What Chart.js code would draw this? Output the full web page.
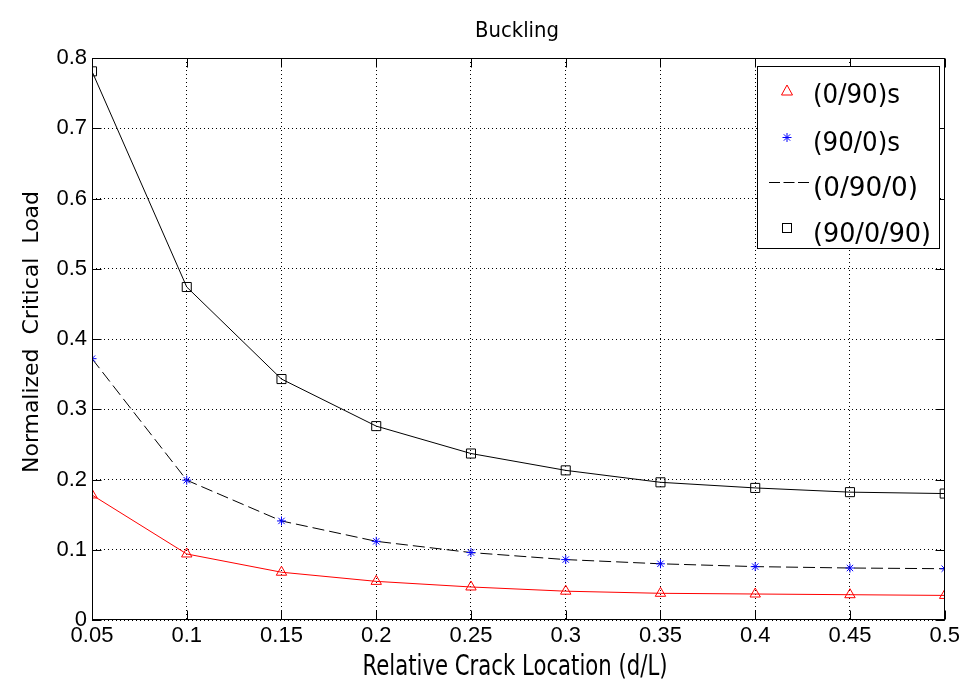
<!DOCTYPE html>
<html>
<head>
<meta charset="utf-8">
<title>Buckling</title>
<script src="https://cdn.jsdelivr.net/npm/chart.js@4/dist/chart.umd.min.js"></script>
<style>
  html, body { margin: 0; padding: 0; background: #fff; }
  #wrap { width: 963px; height: 683px; }
</style>
</head>
<body>
<div id="wrap"><canvas id="myChart" width="963" height="683"></canvas></div>
<script>
// relative crack location d/L
const crackLoc = [0.05, 0.1, 0.15, 0.2, 0.25, 0.3, 0.35, 0.4, 0.45, 0.5];

// normalized critical load
const load0_90s = [0.178, 0.094, 0.068, 0.055, 0.047, 0.041, 0.038, 0.037, 0.036, 0.035];
const load90_0s = [0.372, 0.199, 0.141, 0.112, 0.096, 0.086, 0.080, 0.076, 0.074, 0.073];
const load0_90_0 = [0.372, 0.199, 0.141, 0.112, 0.096, 0.086, 0.080, 0.076, 0.074, 0.073];
const load90_0_90 = [0.781, 0.474, 0.343, 0.276, 0.237, 0.213, 0.196, 0.188, 0.182, 0.180];

const legendNames = ["(0/90)s", "(90/0)s", "(0/90/0)", "(90/0/90)"];
const chartTitle = "Buckling";
const xTitle = "Relative Crack Location (d/L)";
const yTitle = "Normalized  Critical  Load";

const LABEL_FONT = "'DejaVu Sans Condensed', 'DejaVu Sans', sans-serif";

function pts(ys) {
  return crackLoc.map((x, i) => ({ x: x, y: ys[i] }));
}

// text squeezed to a given width (matlab narrow font look)
function drawFitted(c, txt, x, y, w, size, align, angle) {
  c.save();
  c.font = size + "px " + LABEL_FONT;
  const m = c.measureText(txt).width;
  c.translate(x, y);
  if (angle) c.rotate(angle);
  c.scale(w / m, 1);
  c.textAlign = align;
  c.textBaseline = "alphabetic";
  c.fillStyle = "#000";
  c.fillText(txt, 0, 0);
  c.restore();
}

function line(c, x1, y1, x2, y2) {
  c.beginPath();
  c.moveTo(x1, y1);
  c.lineTo(x2, y2);
  c.stroke();
}

// 🔲 box, inward ticks, titles and legend like matlab
const matlabFrame = {
  id: "matlabFrame",
  afterDraw(chart) {
    const c = chart.ctx;
    const a = chart.chartArea;
    const xs = chart.scales.x;
    const ys = chart.scales.y;
    const L = Math.round(a.left) + 0.5, R = Math.round(a.right) - 0.5;
    const T = Math.round(a.top) + 0.5, B = Math.round(a.bottom) - 0.5;

    c.save();
    c.strokeStyle = "#000";
    c.lineWidth = 1;
    c.strokeRect(L, T, R - L, B - T);

    xs.ticks.forEach(t => {
      const px = Math.round(xs.getPixelForValue(t.value)) + 0.5;
      line(c, px, B, px, B - 9);
      line(c, px, T, px, T + 9);
    });
    ys.ticks.forEach(t => {
      const py = Math.round(ys.getPixelForValue(t.value)) + 0.5;
      line(c, L, py, L + 9, py);
      line(c, R, py, R - 9, py);
    });
    c.restore();

    // titles
    drawFitted(c, chartTitle, 517, 37, 84, 21, "center");
    drawFitted(c, xTitle, 515, 675, 305, 29, "center");
    drawFitted(c, yTitle, 38, 332, 282, 21, "center", -Math.PI / 2);

    // legend
    c.save();
    c.fillStyle = "#fff";
    c.strokeStyle = "#000";
    c.lineWidth = 1;
    c.fillRect(757, 66, 182, 182);
    c.strokeRect(757.5, 66.5, 182, 182);

    const mx = 787;
    // triangle
    c.strokeStyle = "#ff0000";
    c.beginPath();
    c.moveTo(mx, 85);
    c.lineTo(mx + 5.5, 95);
    c.lineTo(mx - 5.5, 95);
    c.closePath();
    c.stroke();
    // star
    c.strokeStyle = "#0000ff";
    const sy = 137.5, r = 4.5, d = r * Math.SQRT1_2;
    line(c, mx - r, sy, mx + r, sy);
    line(c, mx, sy - r, mx, sy + r);
    line(c, mx - d, sy - d, mx + d, sy + d);
    line(c, mx - d, sy + d, mx + d, sy - d);
    // dashed line
    c.strokeStyle = "#000";
    c.setLineDash([11, 3.5]);
    line(c, 769, 182.5, 809, 182.5);
    c.setLineDash([]);
    // square
    c.strokeRect(mx - 4.5, 223.5, 9, 9);
    c.restore();

    drawFitted(c, legendNames[0], 813, 103, 87, 27, "left");
    drawFitted(c, legendNames[1], 813, 151, 87, 27, "left");
    drawFitted(c, legendNames[2], 813, 196, 105, 27, "left");
    drawFitted(c, legendNames[3], 813, 242, 118, 27, "left");
  }
};

const ctx = document.getElementById("myChart").getContext("2d");

const chart = new Chart(ctx, {
  type: "line",
  data: {
    datasets: [
      {
        label: legendNames[1],
        data: pts(load90_0s),
        showLine: false,
        pointStyle: "star",
        pointRadius: 4.5,
        pointBorderColor: "#0000ff",
        pointBorderWidth: 1
      },
      {
        label: legendNames[2],
        data: pts(load0_90_0),
        borderColor: "#000",
        borderWidth: 1,
        borderDash: [12, 5],
        pointRadius: 0,
        tension: 0
      },
      {
        label: legendNames[3],
        data: pts(load90_0_90),
        borderColor: "#000",
        borderWidth: 1,
        pointStyle: "rect",
        pointRadius: 6.4,
        pointBorderColor: "#000",
        pointBackgroundColor: "rgba(0,0,0,0)",
        pointBorderWidth: 1,
        tension: 0
      },
      {
        label: legendNames[0],
        data: pts(load0_90s),
        borderColor: "#ff0000",
        borderWidth: 1,
        pointStyle: "triangle",
        pointRadius: 6,
        pointBorderColor: "#ff0000",
        pointBackgroundColor: "rgba(0,0,0,0)",
        pointBorderWidth: 1,
        tension: 0
      }
    ]
  },
  options: {
    responsive: false,
    animation: false,
    layout: { padding: { top: 58, right: 16, left: 0, bottom: 0 } },
    plugins: {
      legend: { display: false },
      title: { display: false },
      tooltip: { enabled: false }
    },
    scales: {
      x: {
        type: "linear",
        min: 0.05,
        max: 0.5,
        ticks: {
          stepSize: 0.05,
          color: "#000",
          padding: 3,
          maxRotation: 0,
          autoSkip: false,
          font: { family: "'Liberation Sans', Arial, sans-serif", size: 22 },
          callback: v => String(Number(v.toFixed(2)))
        },
        grid: { color: "#000", lineWidth: 1, drawTicks: false },
        border: { display: false, dash: [1, 3] },
        afterFit: s => { s.height = 63; }
      },
      y: {
        min: 0,
        max: 0.8,
        ticks: {
          stepSize: 0.1,
          color: "#000",
          padding: 5,
          font: { family: "'Liberation Sans', Arial, sans-serif", size: 22 },
          callback: v => String(Number(v.toFixed(1)))
        },
        grid: { color: "#000", lineWidth: 1, drawTicks: false },
        border: { display: false, dash: [1, 3] },
        afterFit: s => { s.width = 92; }
      }
    }
  },
  plugins: [matlabFrame]
});
</script>
</body>
</html>
